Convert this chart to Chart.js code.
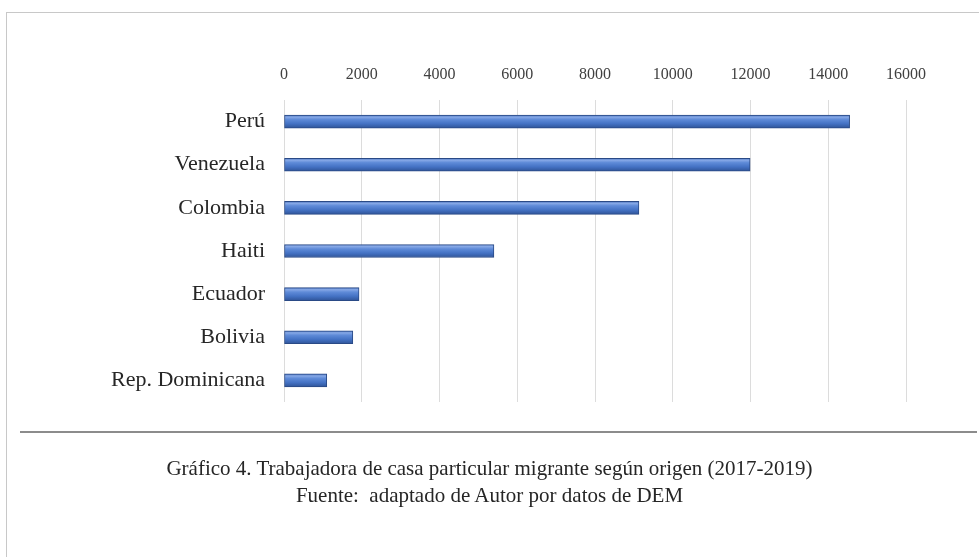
<!DOCTYPE html>
<html lang="es">
<head>
<meta charset="utf-8">
<title>Trabajadora de casa particular migrante según origen</title>
<script src="https://cdn.jsdelivr.net/npm/chart.js@4.4.1/dist/chart.umd.min.js"></script>
<style>
    html, body {
        margin: 0;
        padding: 0;
        background: #ffffff;
        width: 979px;
        height: 557px;
        overflow: hidden;
    }
    #frame {
        position: absolute;
        left: 6px;
        top: 12px;
        width: 990px;
        height: 560px;
        border: 1px solid #c8c8c8;
    }
    #chart-wrap {
        position: absolute;
        left: 0;
        top: 0;
        width: 979px;
        height: 557px;
    }
    #separator {
        position: absolute;
        left: 20px;
        top: 431px;
        width: 957px;
        height: 0;
        border-top: 2px solid #8c8c8c;
    }
    #caption {
        position: absolute;
        left: 0;
        top: 455px;
        width: 979px;
        text-align: center;
        font-family: "Liberation Serif", "DejaVu Serif", serif;
        font-size: 21px;
        line-height: 27px;
        color: #262626;
    }
</style>
</head>
<body>
<div id="frame"></div>
<div id="chart-wrap"><canvas id="originChart" width="979" height="557"></canvas></div>
<div id="separator"></div>
<div id="caption">
    Gráfico 4. Trabajadora de casa particular migrante según origen (2017-2019)<br>
    Fuente:&nbsp; adaptado de Autor por datos de DEM
</div>

<script>
// --- Data ---
const countries = ['Perú', 'Venezuela', 'Colombia', 'Haiti', 'Ecuador', 'Bolivia', 'Rep. Dominicana'];
const workers = [14550, 11990, 9130, 5400, 1930, 1770, 1100];
const tickValues = [0, 2000, 4000, 6000, 8000, 10000, 12000, 14000, 16000];

// bevelled blue look of the original bars
function barGradient(context) {
    const chart = context.chart;
    if (!chart.chartArea || !chart.scales.y) {
        return '#4472c4';
    }
    const y = chart.scales.y.getPixelForValue(context.dataIndex);
    const g = chart.ctx.createLinearGradient(0, y - 7, 0, y + 7);
    g.addColorStop(0, '#3c66b4');
    g.addColorStop(0.18, '#86a8e6');
    g.addColorStop(0.35, '#5f8bd8');
    g.addColorStop(0.65, '#4472c4');
    g.addColorStop(1, '#2d5193');
    return g;
}

function renderChart() {
    const ctx = document.getElementById('originChart').getContext('2d');
    window.originChartInstance = new Chart(ctx, {
        type: 'bar',
        data: {
            labels: countries,
            datasets: [{
                label: 'Trabajadoras',
                data: workers,
                backgroundColor: barGradient,
                borderColor: '#2a4a86',
                borderWidth: 1,
                borderSkipped: false,
                barThickness: 13
            }]
        },
        options: {
            indexAxis: 'y',
            responsive: false,
            animation: false,
            layout: {
                padding: { left: 0, top: 0, right: 73, bottom: 155 }
            },
            scales: {
                x: {
                    position: 'top',
                    min: tickValues[0],
                    max: tickValues[tickValues.length - 1],
                    afterBuildTicks: (scale) => {
                        scale.ticks = tickValues.map(v => ({ value: v }));
                    },
                    afterFit: (scale) => { scale.height = 100; },
                    grid: {
                        color: '#dcdcdc',
                        lineWidth: 1,
                        drawTicks: false
                    },
                    border: { display: false },
                    ticks: {
                        padding: 16,
                        color: '#404040',
                        font: { family: '"Liberation Serif", "DejaVu Serif", serif', size: 16 },
                        callback: (value) => String(value)
                    }
                },
                y: {
                    afterFit: (scale) => { scale.width = 284; },
                    grid: { display: false, drawTicks: false },
                    border: { display: false },
                    ticks: {
                        padding: 19,
                        color: '#262626',
                        font: { family: '"Liberation Serif", "DejaVu Serif", serif', size: 22 }
                    }
                }
            },
            plugins: {
                legend: { display: false },
                tooltip: { enabled: false }
            }
        }
    });
}

document.addEventListener('DOMContentLoaded', renderChart);
</script>
</body>
</html>
